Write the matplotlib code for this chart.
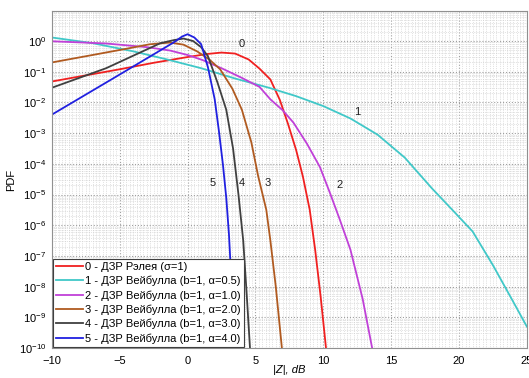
import matplotlib
matplotlib.use("Agg")
import matplotlib.pyplot as plt
from matplotlib.ticker import MultipleLocator, LogLocator, NullFormatter

plt.rcParams['font.family'] = ['Liberation Sans', 'DejaVu Sans']

# curve 0 - Rayleigh
x0 = [-10, -7.5, -5, -2.5, 0, 1.5, 2.5, 3.5, 4.5, 5.3, 6.1, 6.8, 7.4, 8.0, 8.5, 9.0, 9.4, 9.8, 10.2]
p0 = [4.8e-2, 7.6e-2, 1.2e-1, 1.95e-1, 3.0e-1, 3.8e-1, 4.2e-1, 3.9e-1, 2.5e-1, 1.26e-1,
      5.6e-2, 1.2e-2, 2.0e-3, 2.8e-4, 3.8e-5, 3.2e-6, 1.6e-7, 5.0e-9, 1.0e-10]

# curve 1 - Weibull a=0.5
x1 = [-10, -7, -4, -1.5, 1, 3.5, 6, 8, 10, 12, 14, 16, 18, 19.5, 21, 22.5, 24, 25]
p1 = [1.3, 8.5e-1, 4.6e-1, 2.5e-1, 1.3e-1, 6.0e-2, 3.0e-2, 1.6e-2, 7.6e-3, 3.0e-3,
      8.9e-4, 1.6e-4, 1.6e-5, 3.2e-6, 6.3e-7, 5.0e-8, 3.2e-9, 5.0e-10]

# curve 2 - Weibull a=1.0
x2 = [-10, -6, -3, -1.3, 0, 1.1, 2.5, 4, 5.3, 6.1, 7, 7.8, 8.8, 9.75, 10.5, 11.2, 12, 12.9, 13.6]
p2 = [9.8e-1, 8.3e-1, 6.3e-1, 4.9e-1, 3.5e-1, 2.4e-1, 1.3e-1, 6.3e-2, 3.2e-2, 1.26e-2,
      5.6e-3, 2.2e-3, 4.5e-4, 7.9e-5, 1.1e-5, 1.6e-6, 1.6e-7, 4.0e-9, 1.0e-10]

# curve 3 - Weibull a=2.0
x3 = [-10, -7, -4.5, -2.8, -1.3, -0.3, 0.7, 1.6, 2.4, 3.3, 4.0, 4.7, 5.2, 5.8, 6.1, 6.5, 6.95]
p3 = [2.0e-1, 3.5e-1, 5.6e-1, 7.8e-1, 8.9e-1, 7.6e-1, 4.6e-1, 2.5e-1, 1.2e-1, 2.8e-2,
      5.8e-3, 5.0e-4, 4.0e-5, 3.2e-6, 3.2e-7, 1.0e-8, 1.0e-10]

# curve 4 - Weibull a=3.0
x4 = [-10, -6, -2, -1, -0.3, 0.4, 1.0, 1.5, 2.2, 2.85, 3.35, 3.75, 4.1, 4.35, 4.6]
p4 = [3.0e-2, 1.3e-1, 8.5e-1, 1.07, 1.2, 1.0, 6.3e-1, 3.2e-1, 4.5e-2, 5.8e-3,
      3.2e-4, 1.0e-5, 3.2e-7, 6.3e-9, 1.0e-10]

# curve 5 - Weibull a=4.0
x5 = [-10, -5, -1, -0.4, 0, 0.5, 1.0, 1.5, 2.0, 2.3, 2.6, 2.85, 3.05, 3.25, 3.4]
p5 = [4.0e-3, 8.1e-2, 9.1e-1, 1.4, 1.66, 1.3, 7.9e-1, 1.4e-1, 1.26e-2, 1.26e-3,
      1.0e-4, 7.9e-6, 5.0e-7, 1.0e-8, 1.0e-10]

labels = ["0 - ДЗР Рэлея (σ=1)",
          "1 - ДЗР Вейбулла (b=1, α=0.5)",
          "2 - ДЗР Вейбулла (b=1, α=1.0)",
          "3 - ДЗР Вейбулла (b=1, α=2.0)",
          "4 - ДЗР Вейбулла (b=1, α=3.0)",
          "5 - ДЗР Вейбулла (b=1, α=4.0)"]
colors = ['#f02020', '#40c8c8', '#c040d8', '#b05a20', '#404040', '#2020e0']

fig = plt.figure(figsize=(5.29, 3.78), dpi=100)
ax = fig.add_axes([0.098, 0.079, 0.898, 0.892])

for xs, ps, c, lab in zip([x0, x1, x2, x3, x4, x5], [p0, p1, p2, p3, p4, p5], colors, labels):
    ax.semilogy(xs, ps, color=c, lw=1.3, label=lab)

ax.set_xlim(-10, 25)
ax.set_ylim(1e-10, 9.5)
ax.xaxis.set_major_locator(MultipleLocator(5))
ax.xaxis.set_minor_locator(MultipleLocator(0.25))
ax.yaxis.set_major_locator(LogLocator(base=10, numticks=20))
ax.yaxis.set_minor_locator(LogLocator(base=10, subs=range(2, 10), numticks=20))
ax.yaxis.set_minor_formatter(NullFormatter())
ax.tick_params(labelsize=8, length=0, which='both')
ax.tick_params(axis='x', pad=6)
ax.tick_params(axis='y', pad=4)
ax.grid(True, which='major', color='#a0a0a0', ls=':', lw=0.8)
ax.grid(True, which='minor', color='#c8c8c8', ls=':', lw=0.5)
for s in ax.spines.values():
    s.set_color('#909090')

ax.set_xlabel("|Z|, dB", fontsize=8, style='italic', labelpad=-1)
ax.set_ylabel("PDF", fontsize=8, labelpad=2)

# curve numbers
for t, xt, yt in [("0", 4.0, 0.78), ("1", 12.5, 5e-3), ("2", 11.2, 2e-5),
                  ("3", 5.9, 2.4e-5), ("4", 4.0, 2.4e-5), ("5", 1.86, 2.4e-5)]:
    ax.text(xt, yt, t, fontsize=8, ha='center', va='center', color='#202020')

leg = ax.legend(loc='lower left', fontsize=8, frameon=True, fancybox=False,
                borderaxespad=0.1, handlelength=2.4, handletextpad=0.2,
                labelspacing=0.35, borderpad=0.3)
leg.get_frame().set_edgecolor('#404040')
leg.get_frame().set_linewidth(0.8)
leg.get_frame().set_alpha(1)

fig.savefig("out.png", dpi=100)
